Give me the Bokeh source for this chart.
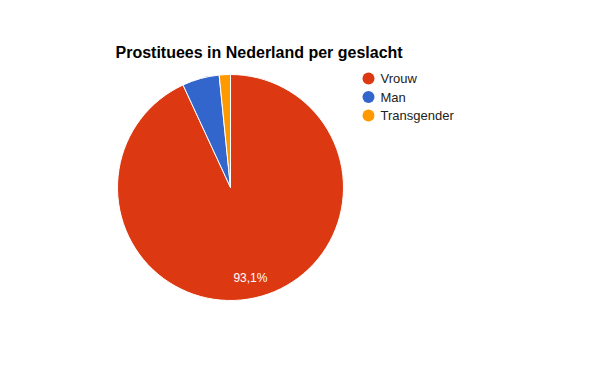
import math
from bokeh.plotting import figure
from bokeh.models import Range1d, ColumnDataSource
from bokeh.core.properties import value
from bokeh.embed import file_html
from bokeh.resources import INLINE

title_text = "Prostituees in Nederland per geslacht"
categories = ["Vrouw", "Man", "Transgender"]
shares = [93.1, 5.3, 1.6]
colors = ["#dc3912", "#3366cc", "#ff9900"]

W, H = 584, 360
p = figure(width=W, height=H, output_backend="svg", toolbar_location=None,
           x_range=Range1d(0, W), y_range=Range1d(0, H), min_border=0)
p.axis.visible = False
p.grid.visible = False
p.outline_line_color = None
p.background_fill_color = "white"

def Y(ref_y):
    return H - ref_y

def X(ref_x):
    return ref_x

cx, cy, r = X(230), Y(187), 113
total = sum(shares)
starts, ends, mids = [], [], []
cum = 0.0
for s in shares:
    a0 = math.pi / 2 - 2 * math.pi * cum / total
    cum += s
    a1 = math.pi / 2 - 2 * math.pi * cum / total
    starts.append(a0)
    ends.append(a1)
    mids.append((a0 + a1) / 2)

src = ColumnDataSource(dict(x=[cx] * 3, y=[cy] * 3, s=starts, e=ends, c=colors))
p.wedge(x="x", y="y", radius=r, start_angle="s", end_angle="e", direction="clock",
        fill_color="c", line_color="white", line_width=1, source=src)

# percentage label on the big slice
lab = [f"{shares[0]:.1f}%".replace(".", ",")]
p.text(x=[cx + 0.82 * r * math.cos(mids[0])], y=[cy + 0.82 * r * math.sin(mids[0])],
       text=lab, text_color="white", text_font=value("Liberation Sans"),
       text_font_size="12px", text_align="center", text_baseline="middle")

# title
p.text(x=[X(115)], y=[Y(52)], text=[title_text], text_font=value("Liberation Sans"),
       text_font_style="bold", text_font_size="16px", text_color="black",
       text_align="left", text_baseline="alphabetic")

# legend
ly = [Y(78) - i * 18.5 for i in range(3)]
p.scatter(x=[X(368)] * 3, y=ly, size=12, fill_color=colors, line_color=None, marker="circle")
p.text(x=[X(380)] * 3, y=ly, text=categories, text_font=value("Liberation Sans"),
       text_font_size="13px", text_color="#222222", text_align="left", text_baseline="middle")

open("out.html", "w").write(file_html(p, INLINE))
